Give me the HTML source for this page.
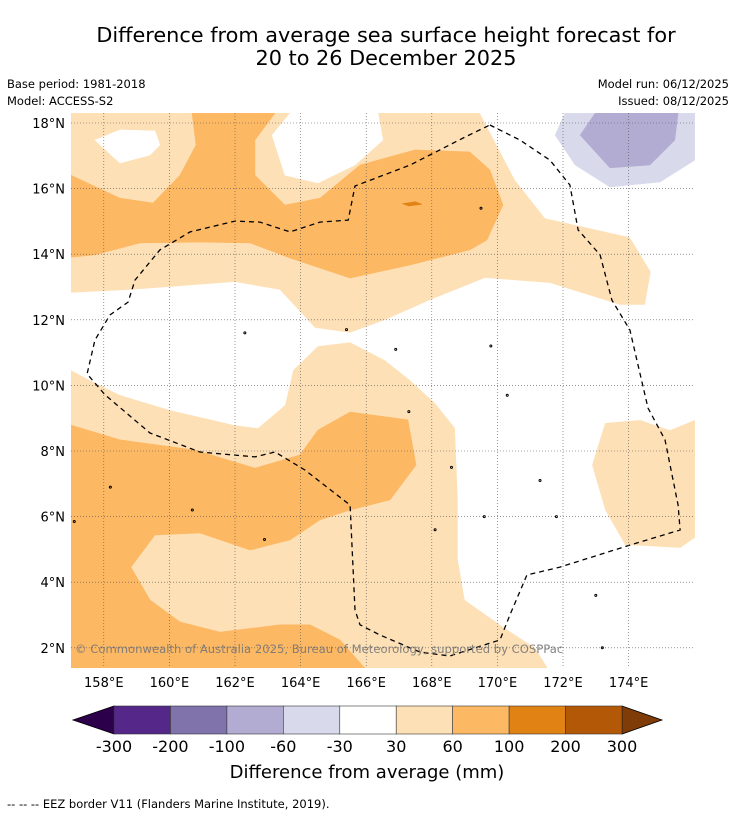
<!DOCTYPE html>
<html><head><meta charset="utf-8"><style>
body{margin:0;background:#fff;width:736px;height:816px;overflow:hidden;font-family:"DejaVu Sans","Liberation Sans",sans-serif;}
svg{display:block}
</style></head><body>
<svg id="fig" width="736" height="816" viewBox="0 0 736 816" xmlns="http://www.w3.org/2000/svg" font-family="DejaVu Sans, Liberation Sans, sans-serif">
<text x="386" y="42" text-anchor="middle" font-size="20.8" fill="#000">Difference from average sea surface height forecast for</text>
<text x="386" y="65" text-anchor="middle" font-size="20.8" fill="#000">20 to 26 December 2025</text>
<text x="7" y="88" font-size="11.5">Base period: 1981-2018</text>
<text x="7" y="105" font-size="11.5">Model: ACCESS-S2</text>
<text x="729" y="88" font-size="11.5" text-anchor="end">Model run: 06/12/2025</text>
<text x="729" y="105" font-size="11.5" text-anchor="end">Issued: 08/12/2025</text>
<defs><clipPath id="mapclip"><rect x="71" y="113" width="624" height="555"/></clipPath></defs>
<g id="map" clip-path="url(#mapclip)"></g>
<g id="grid"></g>
<g id="axes"></g>
<text x="75" y="653" font-size="11.6" fill="#777" fill-opacity="0.9">© Commonwealth of Australia 2025, Bureau of Meteorology, supported by COSPPac</text>
<g id="cbar"></g>
<text x="367" y="778" text-anchor="middle" font-size="18">Difference from average (mm)</text>
<text x="7" y="808" font-size="11.5">--  --  -- EEZ border V11 (Flanders Marine Institute, 2019).</text>
</svg>
<script>
const lonTicks=[158,160,162,164,166,168,170,172,174];
const latTicks=[18,16,14,12,10,8,6,4,2];
const levels=[-300,-200,-100,-60,-30,30,60,100,200,300];
const levelColors=["#542788","#8073ac","#b2abd2","#d8daeb","#ffffff","#fee0b6","#fdb863","#e08214","#b35806"];
const lowColor="#2d004b", highColor="#7f3b08";
const band30_60=[[157,18.3],[176.02,18.3],[176.02,1.38],[157,1.38]];
const whiteHoleNW=[[157.73,17.48],[158.49,17.79],[159.56,17.76],[159.71,17.33],[159.41,17.02],[158.49,16.78]];
const whiteTop=[[163.68,18.3],[163.13,17.63],[163.52,16.41],[164.53,16.17],[165.66,16.72],[166.51,17.48],[166.36,18.3]];
const whiteMain=[[169.47,18.3],[176.02,18.3],[176.02,8.95],[175.26,8.64],[174.35,8.95],[173.28,8.86],[172.88,7.57],[173.28,6.20],[173.89,5.13],[175.57,5.04],[176.02,5.35],[176.02,1.38],[171.54,1.38],[171.15,2.00],[170.08,2.70],[169.01,3.46],[168.80,4.68],[168.80,6.51],[168.71,8.70],[168.10,9.46],[167.34,10.16],[166.57,10.77],[165.51,11.32],[164.53,11.20],[163.77,10.47],[163.52,9.40],[162.70,8.70],[162.0,8.79],[160.02,9.25],[158.49,9.71],[157.58,10.16],[157,10.47],[157,12.82],[158.80,12.91],[162.0,13.15],[163.37,12.91],[164.44,11.75],[165.51,11.60],[166.57,11.99],[167.95,12.60],[169.62,13.27],[171.60,13.12],[173.74,12.45],[174.50,12.45],[174.68,13.46],[174.04,14.52],[171.45,15.10],[170.54,16.26]];
const band60_100_north=[[160.69,18.3],[160.81,17.33],[160.32,16.41],[159.50,15.56],[158.49,15.71],[157,16.41],[157,13.91],[157.73,13.98],[159.10,14.34],[160.93,14.37],[162.46,14.34],[163.68,13.88],[165.51,13.27],[167.34,13.67],[169.16,14.13],[169.68,14.43],[170.17,15.50],[169.77,16.57],[169.16,17.12],[167.49,17.18],[165.81,16.72],[164.59,15.71],[163.52,15.50],[162.61,16.41],[162.61,17.48],[163.22,18.3]];
const band60_100_south=[[157,8.79],[157,1.38],[165.96,1.38],[165.20,2.24],[164.29,2.70],[163.37,2.70],[161.54,2.48],[160.32,2.79],[159.41,3.46],[158.83,4.46],[159.56,5.44],[160.93,5.50],[162.46,4.98],[163.68,5.29],[164.59,5.90],[165.51,6.20],[166.73,6.51],[167.52,7.57],[167.27,8.95],[165.51,9.19],[164.53,8.64],[163.98,7.88],[162.61,7.48],[160.78,8.03],[158.49,8.34]];
const band60_100_spot=[[167.1,15.54],[167.5,15.6],[167.7,15.52],[167.3,15.47]];
const purpleOuter=[[172.06,18.3],[171.76,17.63],[172.37,16.72],[173.43,16.05],[174.96,16.20],[176.02,16.87],[176.02,18.3]];
const purpleInner=[[172.98,18.3],[172.52,17.63],[173.43,16.63],[174.65,16.72],[175.41,17.48],[175.51,18.3]];
const eez=[[169.77,17.94],[170.69,17.48],[171.60,16.87],[172.21,16.11],[172.46,14.74],[173.13,13.98],[173.49,12.60],[174.04,11.69],[174.59,9.31],[175.11,8.34],[175.51,6.35],[175.57,5.59],[174.04,5.13],[171.91,4.46],[170.90,4.22],[170.38,3.00],[170.08,2.24],[168.55,1.75],[167.64,1.87],[166.42,2.39],[165.81,2.70],[165.66,3.15],[165.51,6.35],[164.13,7.42],[163.22,7.97],[162.61,7.82],[160.93,7.97],[159.41,8.55],[158.04,9.71],[157.49,10.35],[157.73,11.38],[158.19,12.15],[158.74,12.54],[158.95,13.21],[159.71,14.13],[160.63,14.68],[162.0,15.01],[162.76,14.98],[163.68,14.68],[164.59,14.98],[165.45,15.04],[165.66,16.08],[167.34,16.72],[169.01,17.57]];
const islands=[[157.1,5.85],[158.2,6.9],[160.7,6.2],[162.9,5.3],[162.3,11.6],[165.4,11.7],[166.9,11.1],[167.3,9.2],[168.6,7.5],[168.1,5.6],[169.6,6.0],[171.3,7.1],[171.8,6.0],[173.0,3.6],[173.2,2.0],[170.3,9.7],[169.8,11.2],[169.5,15.4]];

const X0=71,Y0=123,K=32.8;
const xs=lon=>X0+(lon-157)*K;
const ys=lat=>Y0+(18-lat)*K;
const NS="http://www.w3.org/2000/svg";
function mk(tag,attrs,parent){const e=document.createElementNS(NS,tag);for(const k in attrs)e.setAttribute(k,attrs[k]);parent.appendChild(e);return e;}
function pathOf(pts,close){return pts.map((p,i)=>(i?"L":"M")+xs(p[0]).toFixed(1)+","+ys(p[1]).toFixed(1)).join("")+(close?"Z":"");}
const map=document.getElementById("map");
function region(pts,color,name){const p=mk("path",{d:pathOf(pts,true),fill:color,stroke:color,"stroke-width":"0.5"},map);

}
region(band30_60,levelColors[5],"contour-30-60");
region(whiteHoleNW,"#ffffff","contour-below-30-nw");
region(whiteTop,"#ffffff","contour-below-30-top");
region(whiteMain,"#ffffff","contour-below-30-main");
region(band60_100_north,levelColors[6],"contour-60-100-north");
region(band60_100_south,levelColors[6],"contour-60-100-south");
region(band60_100_spot,levelColors[7],"contour-spot");
region(purpleOuter,levelColors[3],"contour-minus-60-30");
region(purpleInner,levelColors[2],"contour-minus-100-60");
islands.forEach(c=>{const e=mk("circle",{cx:xs(c[0]),cy:ys(c[1]),r:1,fill:"none",stroke:"#000","stroke-width":"1"},map);

});
const ez=mk("path",{d:pathOf(eez,true),fill:"none",stroke:"#000","stroke-width":"1.3","stroke-dasharray":"5,4"},map);


const grid=document.getElementById("grid"),axes=document.getElementById("axes");
lonTicks.forEach(l=>{const x=xs(l);
const g=mk("line",{x1:x,x2:x,y1:113,y2:668,stroke:"#555","stroke-width":"0.6","stroke-dasharray":"1,2"},grid);


const t=mk("text",{x:x,y:687,"text-anchor":"middle","font-size":"13"},axes);t.textContent=l+"°E";

});
latTicks.forEach(l=>{const y=ys(l);
const g=mk("line",{x1:71,x2:695,y1:y,y2:y,stroke:"#555","stroke-width":"0.6","stroke-dasharray":"1,2"},grid);


const t=mk("text",{x:65,y:y+5,"text-anchor":"end","font-size":"13"},axes);t.textContent=l+"°N";

});
const cb=document.getElementById("cbar");
const cx0=114,cx1=622,cy0=706,cy1=734,n=levels.length-1,w=(cx1-cx0)/n;
const lt=mk("path",{d:`M${cx0},${cy0}L73,${(cy0+cy1)/2}L${cx0},${cy1}Z`,fill:lowColor,stroke:"#000","stroke-width":"0.8"},cb);


const rt=mk("path",{d:`M${cx1},${cy0}L662,${(cy0+cy1)/2}L${cx1},${cy1}Z`,fill:highColor,stroke:"#000","stroke-width":"0.8"},cb);


levelColors.forEach((c,i)=>{const r=mk("rect",{x:cx0+i*w,y:cy0,width:w,height:cy1-cy0,fill:c,stroke:"#333","stroke-width":"0.6"},cb);

});
levels.forEach((v,i)=>{const t=mk("text",{x:cx0+i*w,y:752,"text-anchor":"middle","font-size":"16"},cb);t.textContent=v;

});
</script>
</body></html>
